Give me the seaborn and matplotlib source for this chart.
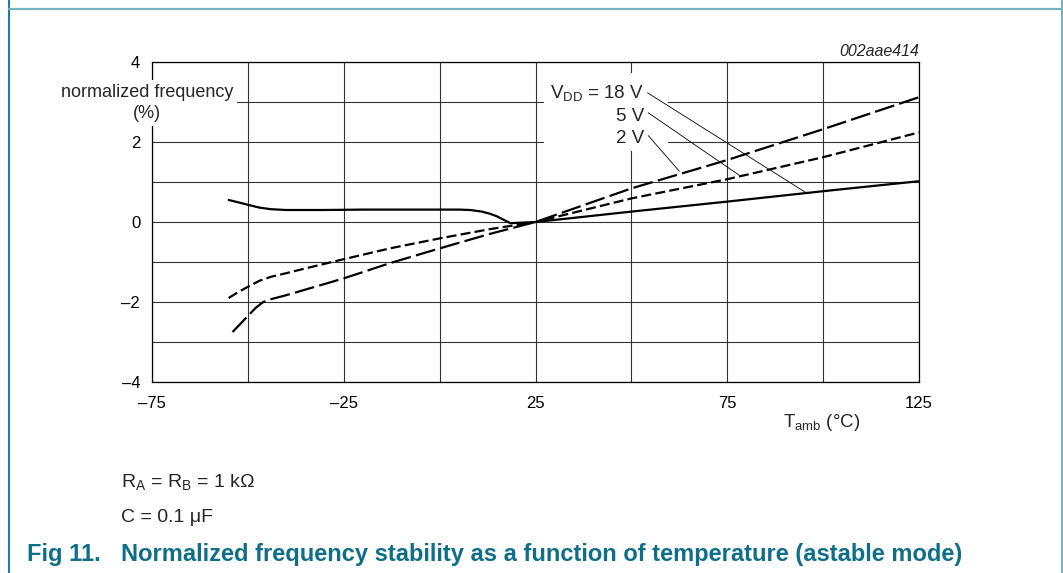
import matplotlib
matplotlib.use("Agg")
import matplotlib.pyplot as plt
import seaborn as sns
from matplotlib.lines import Line2D
from matplotlib.patches import Rectangle

# ---- data ----
temp_18v = [-55, -52, -50, -47, -44, -40, -30, -20, -10, 0, 5, 8, 11, 13, 15, 17, 18.5, 25, 50, 75, 100, 125]
freq_18v = [0.55, 0.48, 0.43, 0.36, 0.32, 0.30, 0.30, 0.31, 0.31, 0.31, 0.31, 0.30, 0.26, 0.21, 0.14, 0.04, -0.03, 0.0, 0.26, 0.51, 0.77, 1.02]

temp_5v = [-55, -52.5, -50, -47, -44, -40, -35, -25, -13, 0, 13, 25, 50, 75, 100, 125]
freq_5v = [-1.9, -1.75, -1.62, -1.47, -1.37, -1.28, -1.16, -0.93, -0.66, -0.41, -0.18, 0.0, 0.59, 1.07, 1.62, 2.24]

temp_2v = [-54, -51, -48, -46, -44, -40, -25, -13, 0, 13, 25, 50, 75, 100, 125]
freq_2v = [-2.75, -2.45, -2.15, -2.0, -1.93, -1.83, -1.41, -1.03, -0.66, -0.3, 0.0, 0.84, 1.55, 2.32, 3.12]

x_ticks = [-75, -25, 25, 75, 125]
x_ticklabels = ["\u201375", "\u201325", "25", "75", "125"]
y_ticks = [-4, -2, 0, 2, 4]
y_ticklabels = ["\u20134", "\u20132", "0", "2", "4"]

# label text, baseline height and leader from label to curve
labels = ["V$_{\\mathrm{DD}}$ = 18 V", "5 V", "2 V"]
label_y = [3.10, 2.53, 1.98]
leader_start = [(54.2, 3.23), (54.4, 2.73), (54.4, 2.16)]
leader_end = [(95.6, 0.73), (78.1, 1.17), (62.5, 1.27)]

sns.set_style("white")
plt.rcParams['font.family'] = ['Liberation Sans', 'DejaVu Sans']
plt.rcParams['mathtext.fontset'] = 'custom'
plt.rcParams['mathtext.rm'] = 'Liberation Sans'
plt.rcParams['mathtext.it'] = 'Liberation Sans:italic'

W, H = 1063, 573
fig = plt.figure(figsize=(W / 100, H / 100), dpi=100)
ax = fig.add_axes([152 / W, 1 - 382 / H, (919 - 152) / W, (382 - 62) / H])

lw = 1.6
sns.lineplot(x=temp_18v, y=freq_18v, ax=ax, color='black', lw=lw, zorder=3)
sns.lineplot(x=temp_5v, y=freq_5v, ax=ax, color='black', lw=lw, linestyle=(0, (4.5, 1.9)), zorder=3)
sns.lineplot(x=temp_2v, y=freq_2v, ax=ax, color='black', lw=lw, linestyle=(0, (9, 2.4)), zorder=3)

ax.set_xlim(-75, 125)
ax.set_ylim(-4, 4)
ax.set_xticks(x_ticks)
ax.set_xticklabels(x_ticklabels)
ax.set_xticks(range(-75, 126, 25), minor=True)
ax.set_yticks(y_ticks)
ax.set_yticklabels(y_ticklabels)
ax.set_yticks(range(-4, 5), minor=True)
ax.tick_params(which='both', length=0, labelsize=12, colors='black')
ax.tick_params(axis='x', pad=10)
ax.tick_params(axis='y', pad=8.5)
ax.set_axisbelow(True)
ax.grid(which='both', color='#333333', lw=0.8)
for s in ax.spines.values():
    s.set_color('black')
    s.set_linewidth(0.9)

# white box behind the curve labels (breaks the grid like the original)
ax.add_patch(Rectangle((27.3, 1.78), 32.3, 1.95, fc='white', ec='none', zorder=1))
for txt, yy in zip(labels, label_y):
    ax.text(53.4, yy, txt, ha='right', va='baseline', fontsize=13.5, zorder=4)
for (x0, y0), (x1, y1) in zip(leader_start, leader_end):
    ax.annotate('', xy=(x1, y1), xytext=(x0, y0),
                arrowprops=dict(arrowstyle='-', lw=0.6, color='black', shrinkA=0, shrinkB=0), zorder=4)

# axis labels
ax.text(147 / W, 1 - 103 / H, "normalized frequency\n(%)", transform=fig.transFigure,
        ha='center', va='center', fontsize=13, linespacing=1.25,
        bbox=dict(fc='white', ec='none', pad=3), zorder=5)
fig.text(783 / W, 1 - 427 / H, "T$_{\\mathrm{amb}}$ (\u00b0C)", ha='left', va='baseline', fontsize=13.5)
fig.text(919 / W, 1 - 56.5 / H, "002aae414", ha='right', va='baseline', fontsize=11.5, style='italic')

# notes and caption
fig.text(121 / W, 1 - 487 / H, "R$_{\\mathrm{A}}$ = R$_{\\mathrm{B}}$ = 1 k\u03a9", ha='left', va='baseline', fontsize=14)
fig.text(121 / W, 1 - 522 / H, "C = 0.1 \u03bcF", ha='left', va='baseline', fontsize=14)
cap_color = '#0f6f88'
fig.text(27 / W, 1 - 561 / H, "Fig 11.", ha='left', va='baseline',
         fontsize=17, fontweight='bold', color=cap_color)
fig.text(121 / W, 1 - 561 / H,
         "Normalized frequency stability as a function of temperature (astable mode)",
         ha='left', va='baseline', fontsize=17, fontweight='bold', color=cap_color)

# page frame lines
fig.add_artist(Line2D([8.5 / W, 8.5 / W], [0, 1], transform=fig.transFigure, color='#1f7f99', lw=1.5))
fig.add_artist(Line2D([8.5 / W, 1061.5 / W], [1 - 9 / H, 1 - 9 / H], transform=fig.transFigure, color='#74b4bc', lw=1.6))
fig.add_artist(Line2D([1061.5 / W, 1061.5 / W], [0, 1], transform=fig.transFigure, color='#74b4bc', lw=1.5))

fig.savefig("out.png", dpi=100)
